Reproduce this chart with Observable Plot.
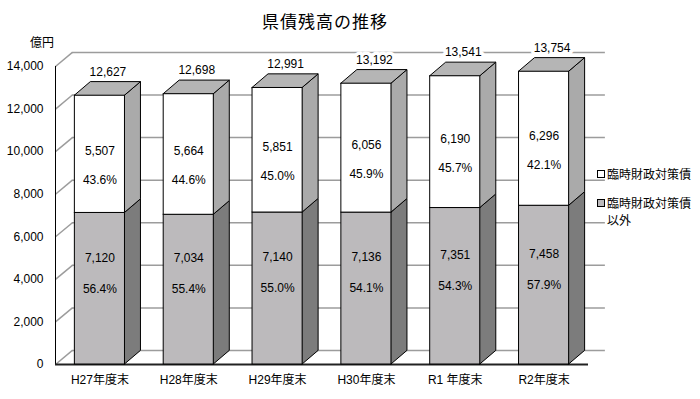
<!DOCTYPE html>
<html>
<head>
<meta charset="utf-8">
<script src="https://cdn.jsdelivr.net/npm/d3@7"></script>
<script src="https://cdn.jsdelivr.net/npm/@observablehq/plot@0.6"></script>
<style>
  html, body { margin: 0; padding: 0; background: #fff; }
  #wrap { position: relative; width: 700px; height: 399px; font-family: "Liberation Sans", "Noto Sans CJK JP", sans-serif; }
  #title { position: absolute; left: 0; width: 650px; top: 8px; text-align: center; font-family: "Noto Sans CJK JP", sans-serif; font-size: 17px; letter-spacing: 1px; color: #000; }
  #unit { position: absolute; left: 30px; top: 33px; font-size: 12px; font-family: "Noto Sans CJK JP", sans-serif; }
  .leg { position: absolute; left: 597px; font-size: 12px; font-family: "Noto Sans CJK JP", sans-serif; line-height: 17px; }
  .sw { display: inline-block; width: 6px; height: 6px; border: 1px solid #000; margin-right: 2px; vertical-align: 1px; }
</style>
</head>
<body>
<div id="wrap">
  <div id="chart"></div>
  <div id="title"></div>
  <div id="unit"></div>
  <div id="legend"></div>
</div>
<script>
const title = "県債残高の推移";
const unit = "億円";
const categories = ["H27年度末", "H28年度末", "H29年度末", "H30年度末", "R1 年度末", "R2年度末"];
const otherValues = [7120, 7034, 7140, 7136, 7351, 7458];   // 臨時財政対策債以外
const rinjiValues = [5507, 5664, 5851, 6056, 6190, 6296];   // 臨時財政対策債
const otherPct = ["56.4%", "55.4%", "55.0%", "54.1%", "54.3%", "57.9%"];
const rinjiPct = ["43.6%", "44.6%", "45.0%", "45.9%", "45.7%", "42.1%"];
const yTicks = [0, 2000, 4000, 6000, 8000, 10000, 12000, 14000];
const seriesNames = ["臨時財政対策債", "臨時財政対策債\n以外"];

// style constants
const HALF = 0.282;         // half bar width (category units)
const BDX = 0.18, BDY = 640; // bar depth
const WDX = 0.19, WDY = 660; // wall depth
const fmt = d3.format(",");
const C = { lowerFront: "#bcbabc", lowerSide: "#7c7c7c", upperSide: "#aaaaaa", top: "#b5b5b5", grid: "#9c9c9c" };

const rows = categories.map((cat, i) => ({
  cat, i,
  lower: otherValues[i], upper: rinjiValues[i],
  total: otherValues[i] + rinjiValues[i],
  xc: i + 0.5, xl: i + 0.5 - HALF, xr: i + 0.5 + HALF
}));

const sideLower = rows.flatMap(r => [
  { cat: r.cat, x: r.xr, y1: 0, y2: r.lower },
  { cat: r.cat, x: r.xr + BDX, y1: BDY, y2: r.lower + BDY }
]);
const sideUpper = rows.flatMap(r => [
  { cat: r.cat, x: r.xr, y1: r.lower, y2: r.total },
  { cat: r.cat, x: r.xr + BDX, y1: r.lower + BDY, y2: r.total + BDY }
]);
const topFace = rows.flatMap(r => [
  { cat: r.cat, y: r.total, x1: r.xl, x2: r.xr },
  { cat: r.cat, y: r.total + BDY, x1: r.xl + BDX, x2: r.xr + BDX }
]);

const font = "Liberation Sans, Noto Sans CJK JP, sans-serif";

const plot = Plot.plot({
  width: 700,
  height: 399,
  marginLeft: 55,
  marginRight: 112,
  marginTop: 66,
  marginBottom: 35,
  x: { type: "linear", domain: [0, categories.length], axis: null },
  y: { domain: [0, 14000], axis: null },
  style: { fontFamily: font, fontSize: "12px", background: "#fff", overflow: "visible" },
  marks: [
    // back wall gridlines
    Plot.ruleY(yTicks, { y: d => d + WDY, x1: WDX, x2: categories.length + WDX, stroke: C.grid, strokeWidth: 1.5 }),
    // left wall diagonals
    Plot.link(yTicks, { x1: 0, y1: d => d, x2: WDX, y2: d => d + WDY, stroke: C.grid, strokeWidth: 1.5 }),
    // left axis and floor
    Plot.ruleX([0], { y1: 0, y2: 14000, stroke: "#000", strokeWidth: 1 }),
    Plot.ruleY([0], { x1: 0, x2: categories.length, stroke: "#222", strokeWidth: 2 }),
    // bars: side faces
    Plot.areaY(sideLower, { x: "x", y1: "y1", y2: "y2", z: "cat", fill: C.lowerSide, stroke: "#000", strokeWidth: 1 }),
    Plot.areaY(sideUpper, { x: "x", y1: "y1", y2: "y2", z: "cat", fill: C.upperSide, stroke: "#000", strokeWidth: 1 }),
    // top faces
    Plot.areaX(topFace, { y: "y", x1: "x1", x2: "x2", z: "cat", fill: C.top, stroke: "#000", strokeWidth: 1 }),
    // front faces
    Plot.rect(rows, { x1: "xl", x2: "xr", y1: 0, y2: "lower", fill: C.lowerFront, stroke: "#000", strokeWidth: 1 }),
    Plot.rect(rows, { x1: "xl", x2: "xr", y1: "lower", y2: "total", fill: "#fff", stroke: "#000", strokeWidth: 1 }),
    // values inside bars
    Plot.text(rows, { x: "xc", y: r => (r.lower + r.total) / 2, dy: -3, text: r => fmt(r.upper), fontSize: 12 }),
    Plot.text(rows, { x: "xc", y: r => (r.lower + r.total) / 2, dy: 26, text: (r) => rinjiPct[r.i], fontSize: 12 }),
    Plot.text(rows, { x: "xc", y: r => r.lower / 2, dy: -31, text: r => fmt(r.lower), fontSize: 12 }),
    Plot.text(rows, { x: "xc", y: r => r.lower / 2, dy: 0, text: (r) => otherPct[r.i], fontSize: 12 }),
    // totals above bars
    Plot.text(rows, { x: r => r.xc + BDX / 2, y: r => r.total + BDY, dy: -10, text: r => fmt(r.total), fontSize: 12, fill: "#000", stroke: "#fff", strokeWidth: 7 }),
    // y tick labels
    Plot.text(yTicks, { x: 0, y: d => d, dx: -12, textAnchor: "end", text: d => fmt(d), fontSize: 12 }),
    // category labels
    Plot.text(rows, { x: "xc", y: 0, dy: 16, text: "cat", fontSize: 12 })
  ]
});
document.getElementById("chart").appendChild(plot);
document.getElementById("title").textContent = title;
document.getElementById("unit").textContent = unit;

const legendColors = ["#fff", C.lowerFront];
const legendTops = [165, 194];
const legend = document.getElementById("legend");
seriesNames.forEach((name, k) => {
  const div = document.createElement("div");
  div.className = "leg";
  div.style.top = legendTops[k] + "px";
  const lines = name.split("\n");
  div.innerHTML = `<span class="sw" style="background:${legendColors[k]}"></span>${lines[0]}` +
    (lines[1] ? `<br><span style="margin-left:10px">${lines[1]}</span>` : "");
  legend.appendChild(div);
});
</script>
</body>
</html>
